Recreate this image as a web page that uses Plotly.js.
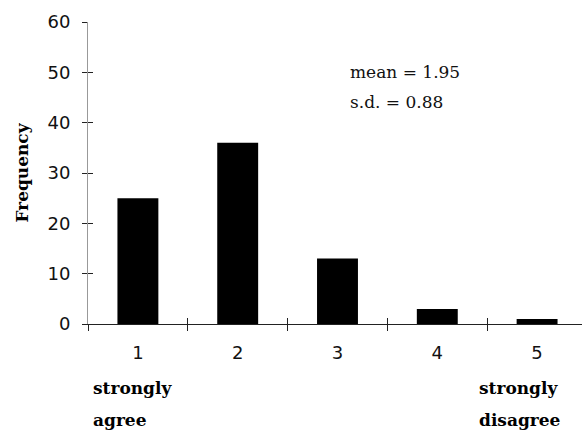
<!DOCTYPE html>
<html>
<head>
<meta charset="utf-8">
<script src="https://cdn.plot.ly/plotly-3.0.1.min.js"></script>
<style>html,body{margin:0;padding:0;background:#fff;}#chart{width:582px;height:434px;}</style>
</head>
<body>
<div id="chart"></div>
<script>
const categories = [1, 2, 3, 4, 5];
const categoryLabels = ["1", "2", "3", "4", "5"];
const frequencies = [25, 36, 13, 3, 1];
const yTickValues = [0, 10, 20, 30, 40, 50, 60];
const yTickLabels = ["0", "10", "20", "30", "40", "50", "60"];
const xBoundaryTicks = [0.5, 1.5, 2.5, 3.5, 4.5];
const statLines = ["mean = 1.95", "s.d. = 0.88"];
const leftEndLabel = ["strongly", "agree"];
const rightEndLabel = ["strongly", "disagree"];

const xRange = [0.5, 5.45];
const yRange = [0, 60];

const bars = {
  type: "bar",
  x: categories,
  y: frequencies,
  width: 0.41,
  marker: { color: "#000000", line: { width: 0 } },
  hoverinfo: "x+y",
  showlegend: false
};
// invisible helper traces so the overlay tick axes are drawn
const helperA = { type: "scatter", mode: "none", x: categories, y: frequencies, xaxis: "x2", yaxis: "y2", showlegend: false, hoverinfo: "skip" };
const helperB = { type: "scatter", mode: "none", x: categories, y: frequencies, xaxis: "x3", yaxis: "y2", showlegend: false, hoverinfo: "skip" };

const sans = "DejaVu Sans, sans-serif";
const serif = "DejaVu Serif, serif";
const tickCol = "#222";

function pxX(px) { return (px - 88) / 494; }
function pxY(py) { return (324 - py) / 302; }

const annotations = [];
statLines.forEach((t, i) => annotations.push({
  text: t, xref: "paper", yref: "paper", x: pxX(348), y: pxY(72 + 30 * i),
  xanchor: "left", yanchor: "middle", showarrow: false,
  font: { family: serif, size: 17, color: "#111" }
}));
leftEndLabel.forEach((t, i) => annotations.push({
  text: "<b>" + t + "</b>", xref: "paper", yref: "paper", x: pxX(91), y: pxY(388 + 32 * i),
  xanchor: "left", yanchor: "middle", showarrow: false,
  font: { family: serif, size: 17, color: "#000" }
}));
rightEndLabel.forEach((t, i) => annotations.push({
  text: "<b>" + t + "</b>", xref: "paper", yref: "paper", x: pxX(477), y: pxY(388 + 32 * i),
  xanchor: "left", yanchor: "middle", showarrow: false,
  font: { family: serif, size: 17, color: "#000" }
}));

const layout = {
  width: 582,
  height: 434,
  margin: { l: 88, r: 0, t: 22, b: 110 },
  paper_bgcolor: "#ffffff",
  plot_bgcolor: "#ffffff",
  showlegend: false,
  xaxis: {
    range: xRange,
    tickvals: categories,
    ticktext: categoryLabels,
    ticks: "outside",
    ticklen: 12,
    tickcolor: "rgba(0,0,0,0)",
    showline: true,
    linecolor: "#222",
    linewidth: 1,
    showgrid: false,
    zeroline: false,
    tickfont: { family: sans, size: 18, color: "#111" },
    fixedrange: true
  },
  xaxis2: {
    overlaying: "x", anchor: "y2", range: xRange,
    tickvals: xBoundaryTicks, ticks: "outside", ticklen: 6, tickcolor: tickCol, tickwidth: 1,
    showticklabels: false, showgrid: false, zeroline: false, showline: false
  },
  xaxis3: {
    overlaying: "x", anchor: "y2", range: xRange,
    tickvals: xBoundaryTicks, ticks: "inside", ticklen: 6, tickcolor: tickCol, tickwidth: 1,
    showticklabels: false, showgrid: false, zeroline: false, showline: false
  },
  yaxis: {
    range: yRange,
    tickvals: yTickValues,
    ticktext: yTickLabels,
    ticks: "outside",
    ticklen: 5,
    tickcolor: tickCol,
    ticklabelstandoff: 8,
    showline: true,
    linecolor: "#999",
    linewidth: 1,
    showgrid: false,
    zeroline: false,
    tickfont: { family: sans, size: 18, color: "#111" },
    title: { text: "<b>Frequency</b>", font: { family: serif, size: 17, color: "#000" }, standoff: 14 },
    fixedrange: true
  },
  yaxis2: {
    overlaying: "y", anchor: "x", side: "left", range: yRange,
    tickvals: yTickValues, ticks: "inside", ticklen: 5, tickcolor: tickCol,
    showticklabels: false, showgrid: false, zeroline: false, showline: false
  },
  annotations: annotations
};

Plotly.newPlot("chart", [bars, helperA, helperB], layout, { staticPlot: true, displayModeBar: false });
</script>
</body>
</html>
